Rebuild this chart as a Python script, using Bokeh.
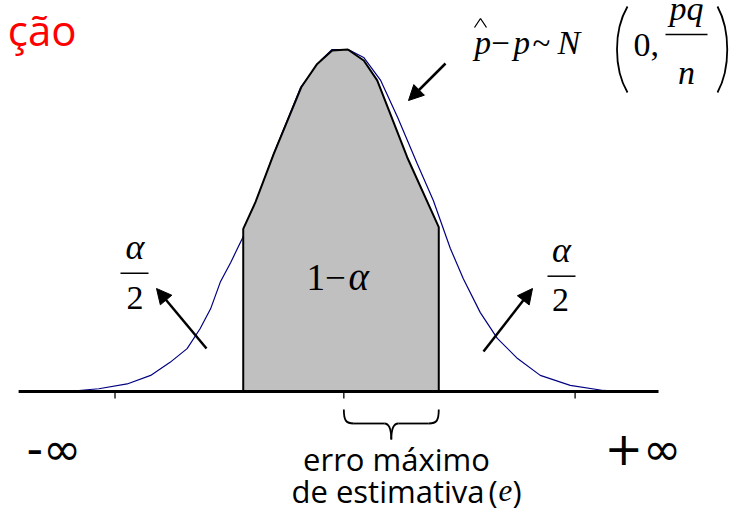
import numpy as np
from bokeh.plotting import figure
from bokeh.models import Range1d, Arrow, NormalHead
from bokeh.core.properties import value
from bokeh.embed import file_html
from bokeh.resources import INLINE

# ---------------- data ----------------
# x in standard deviations from the centre, y as density relative to the peak
curve_z = [-3.38, -2.99, -2.64, -2.35, -2.11, -1.90, -1.74, -1.61, -1.49, -1.36,
           -1.28, -1.20, -0.83, -0.50, -0.25, -0.11, 0.09, 0.28, 0.49, 0.70,
           0.94, 1.14, 1.35, 1.51, 1.72, 1.93, 2.18, 2.46, 2.83, 3.24, 3.43]
curve_y = [0.000, 0.008, 0.022, 0.047, 0.085, 0.125, 0.183, 0.241, 0.319, 0.377,
           0.416, 0.455, 0.694, 0.886, 0.965, 0.997, 0.997, 0.974, 0.907, 0.799,
           0.665, 0.557, 0.417, 0.329, 0.230, 0.155, 0.096, 0.047, 0.018, 0.003, 0.000]

z_crit = 1.207
band_z = [-1.207, -1.056, -0.830, -0.491, -0.294, -0.109, 0.084, 0.281, 0.447, 0.817, 1.207]
band_y = [0.474, 0.552, 0.693, 0.887, 0.955, 0.994, 0.997, 0.965, 0.907, 0.683, 0.479]

axis_ends = [-3.98, 3.92]
tick_z = [-2.79, 0.035, 2.89]
tick_labels = ["-∞", "+∞"]

# ---------------- layout helpers (pixel position -> data) ----------------
PX_X, PX_Y = 81.0, 343.0
X0, Y0 = 340.5, 391.0
def X(px): return (px - X0) / PX_X
def Y(py): return (Y0 - py) / PX_Y

W, H = 735, 516
p = figure(width=W, height=H, output_backend="svg", toolbar_location=None,
           x_range=Range1d(X(0), X(W)), y_range=Range1d(Y(H), Y(0)),
           min_border=0, outline_line_color=None)
p.axis.visible = False
p.grid.visible = False
p.background_fill_color = "white"

SERIF = value("Liberation Serif, Times New Roman, serif")
SANS = value("Open Sans")

# normal curve
p.line(curve_z, curve_y, line_color="#000080", line_width=1.2)

# shaded 1-alpha region
poly_x = [band_z[0]] + band_z + [band_z[-1]]
poly_y = [0.0] + band_y + [0.0]
p.patch(poly_x, poly_y, fill_color="#C0C0C0", line_color="black", line_width=2)

# horizontal axis and ticks
p.line(axis_ends, [0, 0], line_color="black", line_width=3)
tick_len = 7 / PX_Y
p.segment(x0=tick_z, y0=[0] * 3, x1=tick_z, y1=[-tick_len] * 3, line_color="black", line_width=1.3)

# infinity labels
p.text(x=[X(26)], y=[Y(448)], text=[tick_labels[0]], text_font=value("DejaVu Sans"),
       text_font_size="46px", text_baseline="middle", text_align="left", text_color="black")
p.text(x=[X(604)], y=[Y(448)], text=[tick_labels[1]], text_font=value("DejaVu Sans"),
       text_font_size="46px", text_baseline="middle", text_align="left", text_color="black")

def t(x, y, s, size, italic=False, align="left", font=SERIF, color="black"):
    # y is the wanted baseline in picture pixels
    y_adj = y - 0.38 * size
    p.text(x=[X(x)], y=[Y(y_adj)], text=[s], text_font=font, text_font_size=f"{size}px",
           text_font_style="italic" if italic else "normal", text_align=align,
           text_baseline="alphabetic", text_color=color)

# title fragment
t(76, 45, "ção", 42, font=SANS, align="right", color="red")

# formula  p^ - p ~ N(0, pq/n)
t(474, 55, "p", 33, italic=True)
p.line([X(474), X(480), X(486)], [Y(27), Y(18), Y(27)], line_color="black", line_width=1.3)
t(500, 55, "−", 33, align="center")
t(513, 55, "p", 33, italic=True)
t(541, 55, "~", 33, align="center")
t(557, 55, "N", 34, italic=True)
p.bezier(x0=[X(627)], y0=[Y(6)], x1=[X(627)], y1=[Y(92)], cx0=[X(613)], cy0=[Y(30)],
         cx1=[X(613)], cy1=[Y(68)], line_color="black", line_width=1.8)
t(633, 57, "0,", 34)
t(686, 21, "pq", 34, italic=True, align="center")
p.line([X(665), X(707)], [Y(34), Y(34)], line_color="black", line_width=1.5)
t(686, 85, "n", 34, italic=True, align="center")
p.bezier(x0=[X(717)], y0=[Y(6)], x1=[X(717)], y1=[Y(92)], cx0=[X(730)], cy0=[Y(30)],
         cx1=[X(730)], cy1=[Y(68)], line_color="black", line_width=1.8)

# 1 - alpha
t(306, 291, "1", 37)
t(335, 291, "−", 37, align="center")
t(348, 291, "α", 39, italic=True)

# alpha/2 labels
t(134.5, 260, "α", 36, italic=True, align="center")
p.line([X(120), X(148)], [Y(272.7), Y(272.7)], line_color="black", line_width=1.5)
t(134.5, 310, "2", 34, align="center")
t(561, 263, "α", 36, italic=True, align="center")
p.line([X(547), X(575)], [Y(275.7), Y(275.7)], line_color="black", line_width=1.5)
t(560, 312, "2", 34, align="center")

# arrows
for (xs, ys, xe, ye) in [(445, 63, 408, 100), (206, 348, 156, 288), (483, 351, 532, 288)]:
    p.add_layout(Arrow(end=NormalHead(size=15, fill_color="black", line_color="black"),
                       x_start=X(xs), y_start=Y(ys), x_end=X(xe), y_end=Y(ye),
                       line_color="black", line_width=2.5))

# brace under the error interval
bx0, bx1 = tick_z[1], z_crit
xm = (bx0 + bx1) / 2
dx = 10 / PX_X
top, mid, tip = Y(409), Y(423), Y(439)
p.bezier(x0=[bx0, bx1], y0=[top, top], x1=[bx0 + dx, bx1 - dx], y1=[mid, mid],
         cx0=[bx0, bx1], cx1=[bx0 + 2 / PX_X, bx1 - 2 / PX_X], cy0=[Y(420), Y(420)],
         cy1=[mid, mid], line_color="black", line_width=1.8)
p.segment(x0=[bx0 + dx, xm + 7 / PX_X], y0=[mid, mid], x1=[xm - 7 / PX_X, bx1 - dx], y1=[mid, mid],
          line_color="black", line_width=1.8)
p.bezier(x0=[xm - 7 / PX_X, xm + 7 / PX_X], y0=[mid, mid], x1=[xm, xm], y1=[tip, tip],
         cx0=[xm - 2 / PX_X, xm + 2 / PX_X], cy0=[mid, mid], cx1=[xm, xm], cy1=[Y(428), Y(428)],
         line_color="black", line_width=1.8)

# bottom caption
t(396, 470, "erro máximo", 31, font=SANS, align="center")
t(484, 502, "de estimativa", 31, font=SANS, align="right")
t(488, 502, "(", 31, font=SANS)
t(498, 502, "e", 31, italic=True)
t(512, 502, ")", 31, font=SANS)

open("out.html", "w").write(file_html(p, INLINE))
